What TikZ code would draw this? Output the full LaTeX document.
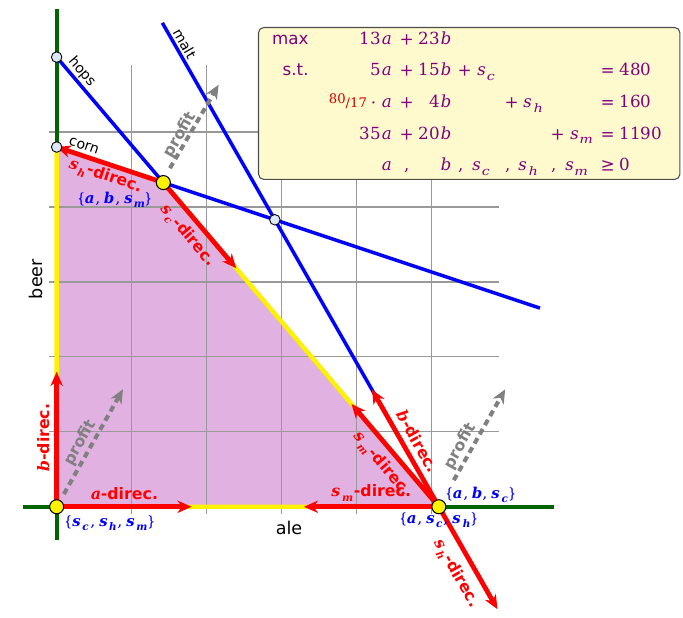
\documentclass[tikz,border=0pt]{standalone}
\usepackage{fontspec}
\usepackage{unicode-math}
\setmainfont{DejaVu Serif}
\setsansfont{DejaVu Sans}
\setmathfont{DejaVu Math TeX Gyre}
\usetikzlibrary{arrows.meta}

\definecolor{feasible}{RGB}{225,178,225}
\definecolor{axisgreen}{RGB}{0,100,0}
\definecolor{boxyellow}{RGB}{255,250,205}
\definecolor{lppurple}{RGB}{128,0,128}
\definecolor{lpred}{RGB}{210,0,0}
\definecolor{dotblue}{RGB}{220,232,245}

\tikzset{
  axisline/.style={draw=axisgreen,line width=2.2pt},
  gridline/.style={draw=black!40,line width=0.7pt},
  constraint/.style={draw=blue,line width=2pt},
  rimline/.style={draw=yellow,line width=2.5pt,line join=round},
  direc/.style={-{Stealth[length=8pt,width=7pt,inset=2.5pt]},draw=red,line width=2.7pt},
  direclabel/.style={text=red,font=\sffamily\bfseries\fontsize{9}{10}\selectfont,inner sep=0pt},
  basislabel/.style={text=blue,font=\fontsize{8.5}{10}\selectfont,inner sep=0pt},
  profitarrow/.style={-{Stealth[length=8pt,width=7pt,inset=2.5pt]},draw=gray,line width=2.3pt,
                      dash pattern=on 3.5pt off 2.5pt},
  profitlabel/.style={text=gray,font=\sffamily\bfseries\fontsize{9}{10}\selectfont,inner sep=0pt,rotate=60.5},
  vertexdot/.style={circle,draw=black,fill=yellow,line width=0.6pt,minimum size=8pt,inner sep=0pt},
  crossdot/.style={circle,draw=black,fill=dotblue,line width=0.5pt,minimum size=6pt,inner sep=0pt},
  linename/.style={font=\sffamily\fontsize{8}{9}\selectfont,inner sep=0pt},
  lpbox/.style={draw=black!70,fill=boxyellow,rounded corners=3pt,line width=0.6pt,text=lppurple,
                minimum width=240pt,minimum height=86.5pt,inner sep=0pt,align=left,anchor=north west,
                font=\fontsize{9.5}{18}\selectfont},
}

% one row of the LP, eight columns
\newcommand{\lprow}[8]{%
  \makebox[28.5pt][r]{#1}\makebox[47.5pt][r]{#2}\makebox[17pt][c]{#3}%
  \makebox[17pt][r]{#4}\makebox[30.5pt][l]{\hspace{4pt}#5}\makebox[26.5pt][l]{#6}%
  \makebox[28.5pt][l]{#7}\makebox[44.5pt][l]{#8}}
\newcommand{\dlab}[1]{$\symbfit{#1}$\kern-0.3pt-direc.}

\begin{document}
\begin{tikzpicture}[x=0.225cm,y=0.225cm]
  \useasboundingbox (-5.04,-9.81) rectangle (55.72,45.08);

  % ---------- POINTS ----------
  \coordinate (O) at (0,0);
  \coordinate (P) at (9.488,28.837);
  \coordinate (Q) at (34,0);
  \coordinate (hopsB) at (0,40);
  \coordinate (cornB) at (0,32);
  \coordinate (cornR) at (43,17.67);
  \coordinate (maltT) at (9.4,43.05);
  \coordinate (cornmalt) at (19.412,25.529);

  % ---------- FEASIBLE REGION + GRID ----------
  \fill[feasible] (O) -- (cornB) -- (P) -- (Q) -- cycle;
  \draw[gridline,step=1.5cm] (-0.667,-0.667) grid (39.33,39.33);

  \draw[axisline] (-3,0) -- (44.25,0);
  \draw[axisline] (0,-3) -- (0,44.3);

  % ---------- CONSTRAINTS ----------
  \draw[constraint] (hopsB) -- (Q);
  \draw[constraint] (cornB) -- (cornR);
  \draw[constraint] (maltT) -- (Q);
  \draw[rimline] (O) -- (cornB) -- (P) -- (Q) -- cycle;

  \node[linename,rotate=-49.6] (hopsname) at (2.25,38.7) {hops};
  \node[linename,rotate=-18.4] (cornname) at (2.43,32.1) {corn};
  \node[linename,rotate=-60.3] (maltname) at (11.4,41.2) {malt};
  \node[font=\sffamily\fontsize{10}{12}\selectfont,rotate=90,inner sep=0pt] (beername) at (-1.8,20.25) {beer};
  \node[font=\sffamily\fontsize{10}{12}\selectfont,inner sep=0pt] (alename) at (20.67,-1.85) {ale};

  % ---------- DIRECTIONS ----------
  \coordinate (aTip) at (12,0);
  \coordinate (bTip) at (0,12);
  \coordinate (smTip) at (22,0);
  \coordinate (bTipQ) at (28.05,10.42);
  \coordinate (smTipQ) at (26.23,9.14);
  \coordinate (shTipQ) at (39.21,-9.11);
  \coordinate (scTip) at (15.97,21.22);

  \draw[direc] (O) -- (aTip);
  \draw[direc] (O) -- (bTip);
  \draw[direc] (Q) -- (smTip);
  \draw[direc] (Q) -- (bTipQ);
  \draw[direc] (Q) -- (smTipQ);
  \draw[direc] (Q) -- (shTipQ);
  \draw[direc] (P) -- (cornB);
  \draw[direc] (P) -- (scTip);

  \node[direclabel] (alab) at (6,1.2) {\dlab{a}};
  \node[direclabel,rotate=90] (blab) at (-1.19,6.1) {\dlab{b}};
  \node[direclabel] (smlab) at (27.96,1.22) {\dlab{s_m}};
  \node[direclabel,rotate=-49.6] (smlabQ) at (28.9,3.8) {\dlab{s_m}};
  \node[direclabel,rotate=-60.3] (blabQ) at (32.1,5.85) {\dlab{b}};
  \node[direclabel,rotate=-60.3] (shlabQ) at (35.5,-5.9) {\dlab{s_h}};
  \node[direclabel,rotate=-18.4] (shlab) at (4.3,29.4) {\dlab{s_h}};
  \node[direclabel,rotate=-49.6] (sclab) at (11.6,24.15) {\dlab{s_c}};

  % ---------- BASES ----------
  \node[basislabel] (basP) at (5.23,27.33) {$\{\symbfit{a}, \symbfit{b}, \symbfit{s_m}\}$};
  \node[basislabel] (basO) at (4.74,-1.45) {$\{\symbfit{s_c}, \symbfit{s_h}, \symbfit{s_m}\}$};
  \node[basislabel] (basQ) at (37.75,1.04) {$\{\symbfit{a}, \symbfit{b}, \symbfit{s_c}\}$};
  \node[basislabel] (basQQ) at (34.0,-1.23) {$\{\symbfit{a}, \symbfit{s_c}, \symbfit{s_h}\}$};

  % ---------- PROFIT ----------
  \coordinate (pO1) at (0.64,1.13);   \coordinate (pO2) at (5.9,10.45);
  \coordinate (pP1) at (10.08,30.12); \coordinate (pP2) at (14.41,37.54);
  \coordinate (pQ1) at (35.33,2.36);  \coordinate (pQ2) at (39.9,10.45);
  \draw[profitarrow] (pO1) -- (pO2);
  \draw[profitarrow] (pP1) -- (pP2);
  \draw[profitarrow] (pQ1) -- (pQ2);
  \node[profitlabel] (proO) at (2.12,5.67) {profit};
  \node[profitlabel] (proP) at (11.0,33.07) {profit};
  \node[profitlabel] (proQ) at (35.93,5.36) {profit};

  % ---------- VERTICES ----------
  \node[crossdot] (hopsdot) at (hopsB) {};
  \node[crossdot] (corndot) at (cornB) {};
  \node[crossdot] (cmdot) at (cornmalt) {};
  \node[vertexdot] (vO) at (O) {};
  \node[vertexdot] (vP) at (P) {};
  \node[vertexdot] (vQ) at (Q) {};

  % ---------- LP ----------
  \node[lpbox] (lp) at (17.91,42.68) {%
    \lprow{\sffamily max}{$13a$}{$+$}{$23b$}{}{}{}{}\\
    \lprow{\sffamily s.t.}{$5a$}{$+$}{$15b$}{$+\;s_c$}{}{}{$=480$}\\
    \lprow{}{{\color{lpred}\fontsize{7.5}{8}\selectfont\raisebox{2.3pt}{80}/17}$\;\cdot\;a$}{$+$}{$4b$}{}{$+\;s_h$}{}{$=160$}\\
    \lprow{}{$35a$}{$+$}{$20b$}{}{}{$+\;s_m$}{$=1190$}\\
    \lprow{}{$a$}{$,$}{$b$}{$,\;s_c$}{$,\;s_h$}{$,\;s_m$}{$\geq 0$}};

\end{tikzpicture}
\end{document}
